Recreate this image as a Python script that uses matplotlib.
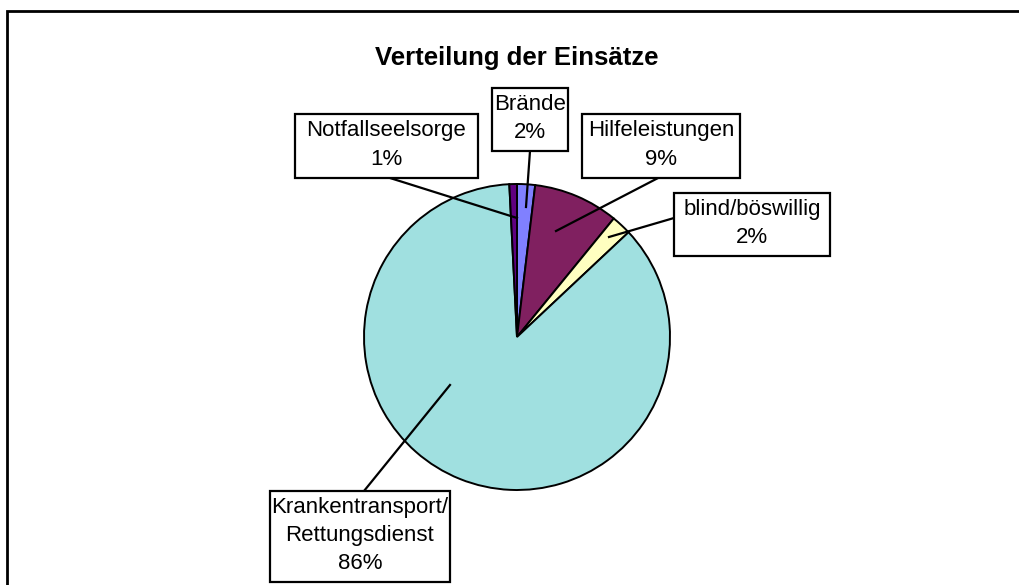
import matplotlib.pyplot as plt
from matplotlib.patches import Rectangle

plt.rcParams['font.family'] = ['Liberation Sans', 'DejaVu Sans']

# Anteile in Prozent, Reihenfolge im Uhrzeigersinn ab 12 Uhr
names = ['Brände', 'Hilfeleistungen', 'blind/böswillig',
         'Krankentransport/\nRettungsdienst', 'Notfallseelsorge']
values = [1.9, 9.0, 2.1, 86.2, 0.8]
colors = ['#8080FF', '#802060', '#FFFFC0', '#A0E0E0', '#600080']

W, H = 1019, 585

# label boxes (left, top, right, bottom) in pixels, leader start/end in pixels
boxes = [(492, 88, 568, 151), (582, 114, 740, 178), (674, 193, 830, 256),
         (270, 491, 450, 582), (295, 114, 478, 178)]
leaders = [((530, 151), (526, 207)), ((660, 177), (556, 231)),
           ((674, 218), (609, 237)), ((364, 491), (450, 385)),
           ((390, 178), (517, 218))]

fig = plt.figure(figsize=(W / 100, H / 100), dpi=100)
ax = fig.add_axes([0, 0, 1, 1])

ax.pie(values, colors=colors, startangle=90, counterclock=False,
       center=(517, H - 337), radius=153,
       wedgeprops=dict(edgecolor='black', linewidth=1.4))

ax.set_xlim(0, W)
ax.set_ylim(0, H)
ax.set_aspect('equal')
ax.axis('off')

# outer chart frame (runs off the right/bottom edge)
ax.add_patch(Rectangle((7, -30), W + 40, H - 11 + 30, fill=False,
                       edgecolor='black', linewidth=2, clip_on=False))

ax.text(517, H - 58, 'Verteilung der Einsätze', ha='center', va='center',
        fontsize=18.5, fontweight='bold')

total = sum(values)
for name, v, (x0, y0, x1, y1), (p0, p1) in zip(names, values, boxes, leaders):
    ax.plot([p0[0], p1[0]], [H - p0[1], H - p1[1]], color='black', lw=1.6,
            zorder=3)
    ax.add_patch(Rectangle((x0, H - y1), x1 - x0, y1 - y0, facecolor='white',
                           edgecolor='black', linewidth=1.6, zorder=4))
    ax.text((x0 + x1) / 2, H - (y0 + y1) / 2 + 1,
            f'{name}\n{v / total * 100:.0f}%',
            ha='center', va='center', multialignment='center',
            fontsize=16, linespacing=1.45, zorder=5)

fig.savefig('out.png', dpi=100)
